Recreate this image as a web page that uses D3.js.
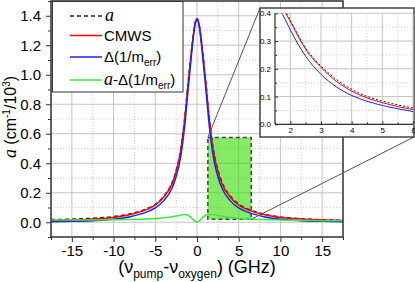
<!DOCTYPE html>
<html>
<head>
<meta charset="utf-8">
<script src="https://cdn.jsdelivr.net/npm/d3@7"></script>
<style>
  body { margin: 0; background: #fff; }
  svg { display: block; font-family: "Liberation Sans", Arial, sans-serif; }
</style>
</head>
<body>
<div id="chart"></div>
<script>
// detuning (GHz) for the main traces
var detuning = [-17.5, -15, -12.5, -10, -8, -6, -5, -4, -3, -2.5, -2, -1.5, -1, -0.75, -0.5, -0.25, 0,
                0.25, 0.5, 0.75, 1, 1.5, 2, 2.5, 3, 4, 5, 6, 8, 10, 12.5, 15, 17.5];
var aVals     = [0.018, 0.021, 0.027, 0.038, 0.057, 0.092, 0.122, 0.175, 0.267, 0.352, 0.478, 0.692, 0.985, 1.119, 1.245, 1.343, 1.382,
                 1.343, 1.247, 1.121, 0.986, 0.692, 0.48, 0.356, 0.27, 0.177, 0.123, 0.092, 0.056, 0.036, 0.024, 0.017, 0.013];
var cmwsVals  = [0.012, 0.016, 0.022, 0.033, 0.052, 0.087, 0.117, 0.17, 0.26, 0.345, 0.47, 0.685, 0.975, 1.11, 1.24, 1.34, 1.38,
                 1.34, 1.24, 1.11, 0.975, 0.685, 0.47, 0.345, 0.26, 0.17, 0.117, 0.087, 0.052, 0.033, 0.022, 0.016, 0.012];
var deltaVals = [0.003, 0.006, 0.011, 0.021, 0.038, 0.07, 0.097, 0.145, 0.23, 0.31, 0.43, 0.64, 0.94, 1.085, 1.225, 1.335, 1.38,
                 1.335, 1.225, 1.085, 0.94, 0.64, 0.43, 0.31, 0.23, 0.145, 0.097, 0.07, 0.038, 0.021, 0.011, 0.006, 0.003];
var diffVals  = [0.015, 0.015, 0.016, 0.017, 0.019, 0.022, 0.025, 0.03, 0.037, 0.042, 0.048, 0.052, 0.045, 0.034, 0.02, 0.008, 0.002,
                 0.008, 0.022, 0.036, 0.046, 0.052, 0.05, 0.046, 0.04, 0.032, 0.026, 0.022, 0.018, 0.015, 0.013, 0.011, 0.01];

// zoomed inset traces
var insetX     = [1.5, 1.75, 2, 2.5, 3, 3.5, 4, 4.5, 5, 5.5, 6];
var insetA     = [0.475, 0.425, 0.375, 0.275, 0.21, 0.162, 0.126, 0.101, 0.084, 0.07, 0.059];
var insetCmws  = [0.47, 0.42, 0.37, 0.27, 0.205, 0.155, 0.12, 0.095, 0.078, 0.064, 0.053];
var insetDelta = [0.43, 0.395, 0.34, 0.245, 0.18, 0.135, 0.104, 0.083, 0.068, 0.056, 0.046];

// ticks
var xTicks = [-15, -10, -5, 0, 5, 10, 15];
var xMinorTicks = [-17.5, -12.5, -7.5, -2.5, 2.5, 7.5, 12.5, 17.5];
var yTicks = [0, 0.2, 0.4, 0.6, 0.8, 1.0, 1.2, 1.4];
var yMinorTicks = [-0.1, 0.1, 0.3, 0.5, 0.7, 0.9, 1.1, 1.3, 1.5];
var insetXTicks = [2, 3, 4, 5, 6];
var insetXMinor = [1.5, 2.5, 3.5, 4.5, 5.5];
var insetYTicks = [0, 0.1, 0.2, 0.3, 0.4];
var insetYMinor = [0.05, 0.15, 0.25, 0.35];

// zoom box drawn on the main plot
var zoomBox = {x0: 1.3, x1: 6.5, y0: 0.02, y1: 0.575};

var width = 415, height = 282;
var svg = d3.select("#chart").append("svg").attr("width", width).attr("height", height);

var x = d3.scaleLinear().domain([-17.5, 17.5]).range([51, 343]);
var y = d3.scaleLinear().domain([-0.1, 1.5]).range([237, 1]);

function toPoints(xv, yv) {
  return xv.map(function(d, i) { return [d, yv[i]]; });
}

// grid lines (solid for major, dotted for minor)
function drawGrid(g, sx, sy, xMaj, xMin, yMaj, yMin) {
  var r0 = sy.range(), c0 = sx.range();
  g.selectAll(".vmin").data(xMin).enter().append("line")
      .attr("x1", sx).attr("x2", sx).attr("y1", r0[0]).attr("y2", r0[1])
      .attr("stroke", "#cfcfcf").attr("stroke-dasharray", "1,2");
  g.selectAll(".hmin").data(yMin).enter().append("line")
      .attr("y1", sy).attr("y2", sy).attr("x1", c0[0]).attr("x2", c0[1])
      .attr("stroke", "#cfcfcf").attr("stroke-dasharray", "1,2");
  g.selectAll(".vmaj").data(xMaj).enter().append("line")
      .attr("x1", sx).attr("x2", sx).attr("y1", r0[0]).attr("y2", r0[1])
      .attr("stroke", "#c4c4c4");
  g.selectAll(".hmaj").data(yMaj).enter().append("line")
      .attr("y1", sy).attr("y2", sy).attr("x1", c0[0]).attr("x2", c0[1])
      .attr("stroke", "#c4c4c4");
}

drawGrid(svg.append("g"), x, y, xTicks, xMinorTicks, yTicks, yMinorTicks);

svg.append("clipPath").attr("id", "mainClip").append("rect")
    .attr("x", 51).attr("y", 1).attr("width", 292).attr("height", 236);

// highlighted region that the inset magnifies
svg.append("rect")
    .attr("x", x(zoomBox.x0)).attr("y", y(zoomBox.y1))
    .attr("width", x(zoomBox.x1) - x(zoomBox.x0))
    .attr("height", y(zoomBox.y0) - y(zoomBox.y1))
    .attr("fill", "#33dd00").attr("fill-opacity", 0.6)
    .attr("stroke", "#444").attr("stroke-width", 1.5).attr("stroke-dasharray", "4,3");

var line = d3.line()
    .x(function(d) { return x(d[0]); })
    .y(function(d) { return y(d[1]); })
    .curve(d3.curveMonotoneX);

var curves = svg.append("g").attr("clip-path", "url(#mainClip)");
var series = [
  {vals: aVals, color: "#222", dash: "4,3"},
  {vals: cmwsVals, color: "#ff0000", dash: null},
  {vals: deltaVals, color: "#2020ff", dash: null},
  {vals: diffVals, color: "#33ee33", dash: null}
];
series.forEach(function(s) {
  curves.append("path")
      .datum(toPoints(detuning, s.vals))
      .attr("d", line)
      .attr("fill", "none")
      .attr("stroke", s.color)
      .attr("stroke-width", 1.5)
      .attr("stroke-dasharray", s.dash);
});

// axes
function styleAxis(g, size) {
  g.select(".domain").remove();
  g.selectAll(".tick line").attr("stroke", "#333");
  g.selectAll(".tick text").attr("fill", "#000").style("font-size", size + "px")
      .style("font-family", '"Liberation Sans", Arial, sans-serif');
}

svg.append("g").attr("transform", "translate(0,237)")
    .call(d3.axisBottom(x).tickValues(xTicks).tickSize(5).tickPadding(3).tickFormat(function(d) { return d; }))
    .call(styleAxis, 15);
svg.append("g").attr("transform", "translate(0,237)")
    .call(d3.axisBottom(x).tickValues(xMinorTicks).tickSize(3).tickFormat(""))
    .call(styleAxis, 15);
svg.append("g").attr("transform", "translate(51,0)")
    .call(d3.axisLeft(y).tickValues(yTicks).tickSize(5).tickPadding(5).tickFormat(d3.format(".1f")))
    .call(styleAxis, 15);
svg.append("g").attr("transform", "translate(51,0)")
    .call(d3.axisLeft(y).tickValues(yMinorTicks).tickSize(3).tickFormat(""))
    .call(styleAxis, 15);

// plot frame
svg.append("rect").attr("x", 51).attr("y", 1).attr("width", 292).attr("height", 236)
    .attr("fill", "none").attr("stroke", "#333").attr("stroke-width", 1.5);

// axis titles
var xTitle = svg.append("text").attr("x", 197).attr("y", 273)
    .attr("text-anchor", "middle").style("font-size", "18px");
xTitle.append("tspan").text("(\u03bd");
xTitle.append("tspan").attr("dy", 5).style("font-size", "12px").text("pump");
xTitle.append("tspan").attr("dy", -5).text("-\u03bd");
xTitle.append("tspan").attr("dy", 5).style("font-size", "12px").text("oxygen");
xTitle.append("tspan").attr("dy", -5).text(") (GHz)");

var yTitle = svg.append("text").attr("transform", "translate(16,117) rotate(-90)")
    .attr("text-anchor", "middle").style("font-size", "16px");
yTitle.append("tspan").style("font-family", '"Liberation Serif", "Times New Roman", serif')
    .style("font-style", "italic").style("font-size", "18px").text("a");
yTitle.append("tspan").text(" (cm");
yTitle.append("tspan").attr("dy", -6).style("font-size", "10px").text("-1");
yTitle.append("tspan").attr("dy", 6).text("/10");
yTitle.append("tspan").attr("dy", -6).style("font-size", "10px").text("3");
yTitle.append("tspan").attr("dy", 6).text(")");

// legend
var legend = svg.append("g");
legend.append("rect").attr("x", 52.5).attr("y", 1.5).attr("width", 130.5).attr("height", 90.5)
    .attr("fill", "#fff").attr("stroke", "#333").attr("stroke-width", 1);
var legendY = [16, 35.5, 57, 80];
series.forEach(function(s, i) {
  legend.append("line")
      .attr("x1", 70).attr("x2", 102).attr("y1", legendY[i]).attr("y2", legendY[i])
      .attr("stroke", s.color).attr("stroke-width", 1.5).attr("stroke-dasharray", s.dash);
});
function italicA(t) {
  t.append("tspan").style("font-family", '"Liberation Serif", "Times New Roman", serif')
      .style("font-style", "italic").style("font-size", "18px").text("a");
}
var t0 = legend.append("text").attr("x", 105).attr("y", legendY[0] + 5).style("font-size", "15px");
italicA(t0);
legend.append("text").attr("x", 104).attr("y", legendY[1] + 5.5).style("font-size", "15px").text("CMWS");
var t2 = legend.append("text").attr("x", 104).attr("y", legendY[2] + 5).style("font-size", "15px");
t2.append("tspan").text("\u0394(1/m");
t2.append("tspan").attr("dy", 4).style("font-size", "10px").text("err");
t2.append("tspan").attr("dy", -4).text(")");
var t3 = legend.append("text").attr("x", 104).attr("y", legendY[3] + 5).style("font-size", "15px");
italicA(t3);
t3.append("tspan").text("-\u0394(1/m");
t3.append("tspan").attr("dy", 4).style("font-size", "10px").text("err");
t3.append("tspan").attr("dy", -4).text(")");

// inset with the magnified tail
var xi = d3.scaleLinear().domain([1.5, 6]).range([275, 413]);
var yi = d3.scaleLinear().domain([0, 0.4]).range([124.3, 13.3]);

// connector lines from the zoom box to the inset corners
svg.append("line").attr("x1", x(zoomBox.x0)).attr("y1", y(zoomBox.y1)).attr("x2", 260).attr("y2", 8)
    .attr("stroke", "#555").attr("stroke-width", 1);
svg.append("line").attr("x1", x(zoomBox.x1)).attr("y1", y(zoomBox.y0)).attr("x2", 414).attr("y2", 137)
    .attr("stroke", "#555").attr("stroke-width", 1);

var inset = svg.append("g");
inset.append("rect").attr("x", 260).attr("y", 8).attr("width", 154).attr("height", 129)
    .attr("fill", "#fff").attr("stroke", "#444").attr("stroke-width", 1.5);
drawGrid(inset.append("g"), xi, yi, insetXTicks, insetXMinor, insetYTicks, insetYMinor);

svg.append("clipPath").attr("id", "insetClip").append("rect")
    .attr("x", 275).attr("y", 13.3).attr("width", 138).attr("height", 111);

var lineInset = d3.line()
    .x(function(d) { return xi(d[0]); })
    .y(function(d) { return yi(d[1]); })
    .curve(d3.curveMonotoneX);

var insetSeries = [
  {vals: insetA, color: "#222", dash: "2,2"},
  {vals: insetCmws, color: "#ff0000", dash: null},
  {vals: insetDelta, color: "#2020ff", dash: null}
];
var insetCurves = inset.append("g").attr("clip-path", "url(#insetClip)");
insetSeries.forEach(function(s) {
  insetCurves.append("path")
      .datum(toPoints(insetX, s.vals))
      .attr("d", lineInset)
      .attr("fill", "none")
      .attr("stroke", s.color)
      .attr("stroke-width", 1)
      .attr("stroke-dasharray", s.dash);
});

inset.append("g").attr("transform", "translate(0,124.3)")
    .call(d3.axisBottom(xi).tickValues(insetXTicks).tickSize(-3).tickPadding(3).tickFormat(d3.format("d")))
    .call(styleAxis, 8);
inset.append("g").attr("transform", "translate(0,124.3)")
    .call(d3.axisBottom(xi).tickValues(insetXMinor).tickSize(-2).tickFormat(""))
    .call(styleAxis, 8);
inset.append("g").attr("transform", "translate(275,0)")
    .call(d3.axisLeft(yi).tickValues(insetYTicks).tickSize(-3).tickPadding(4).tickFormat(d3.format(".1f")))
    .call(styleAxis, 8);
inset.append("g").attr("transform", "translate(275,0)")
    .call(d3.axisLeft(yi).tickValues(insetYMinor).tickSize(-2).tickFormat(""))
    .call(styleAxis, 8);

// inner axis lines of the inset
inset.append("line").attr("x1", 275).attr("x2", 275).attr("y1", 13.3).attr("y2", 124.3)
    .attr("stroke", "#333").attr("stroke-width", 1.2);
inset.append("line").attr("x1", 275).attr("x2", 413).attr("y1", 124.3).attr("y2", 124.3)
    .attr("stroke", "#333").attr("stroke-width", 1.2);
</script>
</body>
</html>
